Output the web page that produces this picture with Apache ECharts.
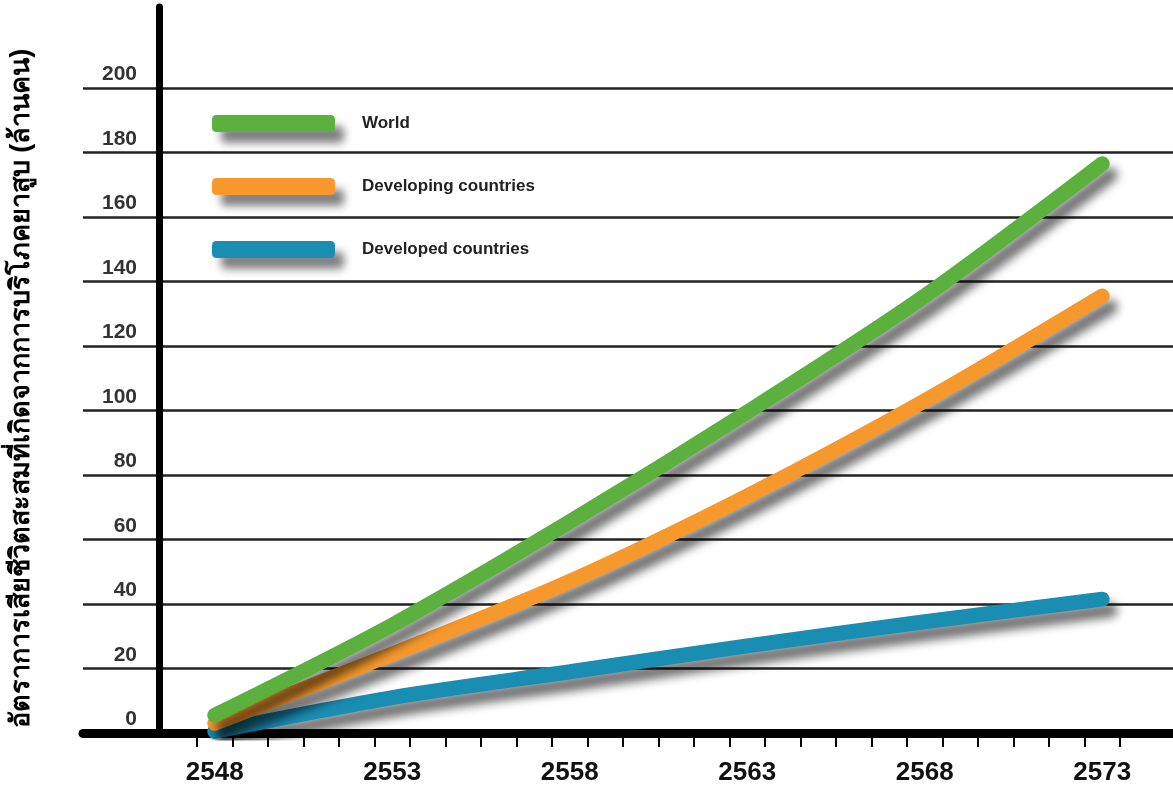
<!DOCTYPE html>
<html>
<head>
<meta charset="UTF-8">
<title>tobacco deaths</title>
<script src="https://cdn.jsdelivr.net/npm/echarts@6/dist/echarts.min.js"></script>
<style>html,body{margin:0;padding:0;background:#fff}</style>
</head>
<body>
	<div id="main" style="width:1173px;height:793px"></div>
<script type="text/javascript">
var years = ['2548', '2549', '2550', '2551', '2552', '2553', '2554', '2555', '2556',
  '2557', '2558', '2559', '2560', '2561', '2562', '2563', '2564', '2565', '2566',
  '2567', '2568', '2569', '2570', '2571', '2572', '2573'];
var sampleYears = ['2548', '2553', '2558', '2563', '2568', '2573'];
var world = [5.5, 33.5, 65.5, 99.5, 135.5, 176.5];
var developing = [3, 24.5, 47, 73.5, 103, 135.5];
var developed = [0.5, 11, 19, 27, 34.5, 41.5];
var yTitle = 'อัตราการเสียชีวิตสะสมที่เกิดจากการบริโภคยาสูบ (ล้านคน)';

var myChart = echarts.init(document.getElementById('main'));

var shadow = {
  shadowColor: 'rgba(0,0,0,0.55)',
  shadowBlur: 10,
  shadowOffsetX: 8,
  shadowOffsetY: 11
};

function makeLine(name, values, color) {
  return {
    name: name,
    type: 'line',
    xAxisIndex: 1,
    yAxisIndex: 1,
    smooth: 0.3,
    symbol: 'none',
    silent: true,
    itemStyle: { color: color },
    lineStyle: Object.assign({ width: 15, color: color, cap: 'round' }, shadow),
    data: sampleYears.map(function (y, i) { return [y, values[i]]; })
  };
}

var option = {
  animation: false,
  backgroundColor: '#fff',
  legend: {
    data: ['World', 'Developing countries', 'Developed countries'],
    orient: 'vertical',
    left: 207,
    top: 110,
    itemWidth: 123,
    itemHeight: 17,
    itemGap: 46,
    icon: 'roundRect',
    selectedMode: false,
    itemStyle: { shadowColor: 'rgba(0,0,0,0.5)', shadowBlur: 8, shadowOffsetX: 9, shadowOffsetY: 11 },
    textStyle: { fontSize: 17, fontWeight: 'bold', color: '#222', padding: [0, 0, 0, 22] }
  },
  grid: [
    { left: 80, right: 0, top: 88, bottom: 60 },
    { left: 197, right: 53, top: 88, bottom: 60 },
    { left: 159, right: 1010, top: 7, bottom: 60 }
  ],
  xAxis: [
    {
      gridIndex: 0, type: 'value', min: 0, max: 1,
      axisLine: { show: true, lineStyle: { color: '#000', width: 9 } },
      axisTick: { show: false }, axisLabel: { show: false }, splitLine: { show: false }
    },
    {
      gridIndex: 1, type: 'category', data: years, boundaryGap: true,
      axisLine: { show: false },
      axisTick: { show: true, interval: 0, length: 14, lineStyle: { color: '#000', width: 2 } },
      axisLabel: { interval: 4, margin: 27, fontSize: 26, fontWeight: 'bold', color: '#111', fontFamily: 'Liberation Sans' },
      splitLine: { show: false }
    },
    { gridIndex: 2, type: 'value', show: false }
  ],
  yAxis: [
    {
      gridIndex: 0, type: 'value', min: 0, max: 200, interval: 20,
      axisLine: { show: false }, axisTick: { show: false }, axisLabel: { show: false },
      splitLine: { show: true, lineStyle: { color: '#222', width: 2.5 } },
      name: yTitle,
      nameLocation: 'middle',
      nameRotate: 90,
      nameGap: 48,
      nameTextStyle: { fontSize: 27, fontWeight: 'bold', color: '#000', padding: [0, 0, 0, 44] }
    },
    {
      gridIndex: 1, type: 'value', min: 0, max: 200, interval: 20,
      axisLine: { show: false }, axisTick: { show: false }, splitLine: { show: false },
      axisLabel: { margin: 60, fontSize: 21, fontWeight: 'bold', color: '#333', verticalAlign: 'bottom', padding: [0, 0, 3, 0], fontFamily: 'Liberation Sans' }
    },
    {
      gridIndex: 2, type: 'value', min: 0, max: 1,
      axisLine: { show: true, lineStyle: { color: '#000', width: 7 } },
      axisTick: { show: false }, axisLabel: { show: false }, splitLine: { show: false }
    }
  ],
  series: [
    makeLine('Developed countries', developed, '#1a8db3'),
    makeLine('Developing countries', developing, '#f7982c'),
    makeLine('World', world, '#5cb03e')
  ]
};

myChart.setOption(option);
</script>
</body>
</html>
